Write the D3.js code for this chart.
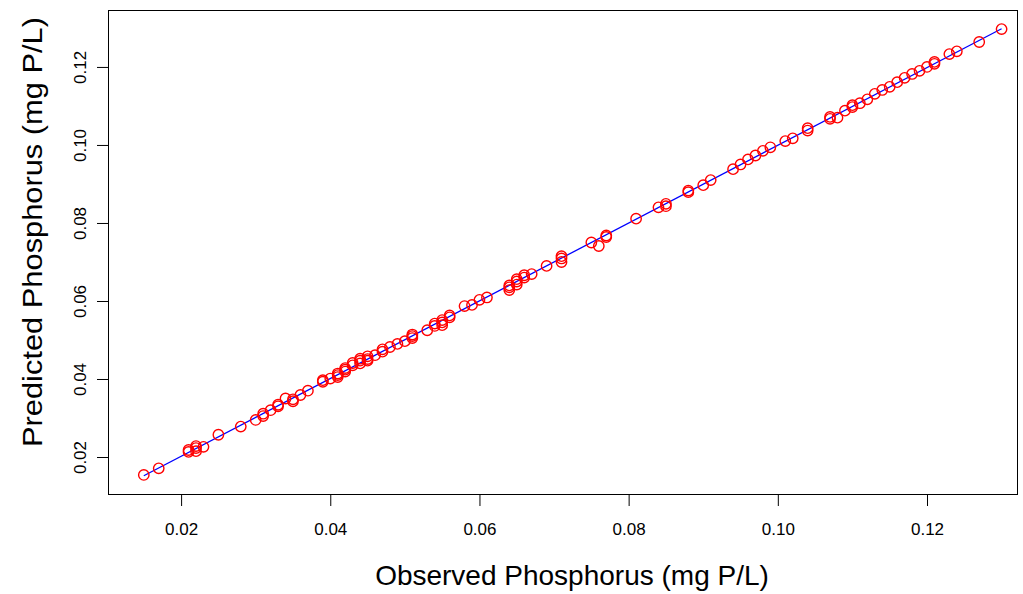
<!DOCTYPE html>
<html>
<head>
<meta charset="utf-8">
<script src="https://cdn.jsdelivr.net/npm/d3@7"></script>
<style>
  body { margin: 0; background: #fff; }
  text { font-family: "Liberation Sans", Arial, Helvetica, sans-serif; fill: #000; }
</style>
</head>
<body>
<div id="container"></div>
<script>
/* CONSTANTS AND GLOBALS */
const width = 1023,
  height = 594,
  margin = { top: 10, bottom: 99, left: 108, right: 5 };

/* DATA */
const observed = [
  0.015, 0.017, 0.021, 0.021, 0.022, 0.022, 0.022, 0.023, 0.025, 0.028,
  0.030, 0.031, 0.031, 0.032, 0.033, 0.033, 0.034, 0.035, 0.035, 0.036,
  0.037, 0.039, 0.039, 0.040, 0.041, 0.041, 0.041, 0.042, 0.042, 0.042,
  0.043, 0.043, 0.044, 0.044, 0.044, 0.045, 0.045, 0.045, 0.046, 0.047,
  0.047, 0.048, 0.049, 0.050, 0.051, 0.051, 0.051, 0.053, 0.054, 0.054,
  0.055, 0.055, 0.055, 0.056, 0.056, 0.058, 0.059, 0.060, 0.061, 0.064,
  0.064, 0.064, 0.065, 0.065, 0.065, 0.066, 0.066, 0.067, 0.069, 0.071,
  0.071, 0.071, 0.075, 0.076, 0.077, 0.077, 0.081, 0.084, 0.085, 0.085,
  0.088, 0.088, 0.090, 0.091, 0.094, 0.095, 0.096, 0.097, 0.098, 0.099,
  0.101, 0.102, 0.104, 0.104, 0.107, 0.107, 0.108, 0.109, 0.110, 0.110,
  0.111, 0.112, 0.113, 0.114, 0.115, 0.116, 0.117, 0.118, 0.119, 0.120,
  0.121, 0.121, 0.123, 0.124, 0.127, 0.130
];

const predicted = [
  0.0154, 0.0171, 0.0213, 0.0218, 0.0215, 0.0223, 0.0228, 0.0226, 0.0257, 0.0278,
  0.0295, 0.0305, 0.0311, 0.0320, 0.0330, 0.0334, 0.0350, 0.0343, 0.0348, 0.0359,
  0.0370, 0.0393, 0.0397, 0.0401, 0.0405, 0.0410, 0.0414, 0.0419, 0.0424, 0.0428,
  0.0435, 0.0441, 0.0440, 0.0447, 0.0452, 0.0447, 0.0451, 0.0458, 0.0461, 0.0470,
  0.0476, 0.0482, 0.0490, 0.0497, 0.0505, 0.0510, 0.0514, 0.0525, 0.0536, 0.0542,
  0.0538, 0.0545, 0.0551, 0.0558, 0.0563, 0.0587, 0.0590, 0.0603, 0.0609, 0.0628,
  0.0635, 0.0640, 0.0642, 0.0650, 0.0656, 0.0660, 0.0666, 0.0669, 0.0690, 0.0700,
  0.0709, 0.0715, 0.0750, 0.0741, 0.0764, 0.0768, 0.0811, 0.0840, 0.0843, 0.0849,
  0.0879, 0.0883, 0.0897, 0.0910, 0.0938, 0.0950, 0.0963, 0.0973, 0.0985, 0.0994,
  0.1010, 0.1017, 0.1037, 0.1043, 0.1067, 0.1072, 0.1070, 0.1088, 0.1097, 0.1102,
  0.1107, 0.1117, 0.1131, 0.1141, 0.1149, 0.1161, 0.1172, 0.1182, 0.1190, 0.1200,
  0.1208, 0.1213, 0.1233, 0.1240, 0.1264, 0.1297
];

// fitted line end points
const fitX = [0.015, 0.130];
const fitY = [0.0152, 0.1298];

const xTicks = [0.02, 0.04, 0.06, 0.08, 0.10, 0.12];
const yTicks = [0.02, 0.04, 0.06, 0.08, 0.10, 0.12];

const xTitle = "Observed Phosphorus (mg P/L)";
const yTitle = "Predicted Phosphorus (mg P/L)";

const points = observed.map((d, i) => ({ obs: d, pred: predicted[i] }));

// SCALES
const xScale = d3.scaleLinear()
  .domain([0.0102, 0.1322])
  .range([margin.left, width - margin.right]);

const yScale = d3.scaleLinear()
  .domain([0.01026, 0.1346])
  .range([height - margin.bottom, margin.top]);

// CREATE SVG ELEMENT
const svg = d3.select("#container")
  .append("svg")
  .attr("width", width)
  .attr("height", height);

// BOX
svg.append("rect")
  .attr("x", margin.left + 0.5)
  .attr("y", margin.top + 0.5)
  .attr("width", width - margin.left - margin.right - 1)
  .attr("height", height - margin.top - margin.bottom - 1)
  .attr("fill", "none")
  .attr("stroke", "#000")
  .attr("stroke-width", 1);

// AXES
const fmt = d3.format(".2f");

const xAxis = d3.axisBottom(xScale)
  .tickValues(xTicks)
  .tickFormat(fmt)
  .tickSize(11)
  .tickPadding(17);

const gx = svg.append("g")
  .attr("transform", `translate(0, ${height - margin.bottom})`)
  .call(xAxis);
gx.select(".domain").remove();
gx.selectAll("text").style("font-size", "17px");

const yAxis = d3.axisLeft(yScale)
  .tickValues(yTicks)
  .tickFormat(fmt)
  .tickSize(11);

const gy = svg.append("g")
  .attr("transform", `translate(${margin.left}, 0)`)
  .call(yAxis);
gy.select(".domain").remove();
gy.selectAll("text")
  .style("font-size", "17px")
  .attr("x", 0)
  .attr("dy", 0)
  .attr("text-anchor", "middle")
  .attr("transform", "translate(-22, 0) rotate(-90)");

// AXIS TITLES
svg.append("text")
  .attr("x", 572)
  .attr("y", 585)
  .attr("text-anchor", "middle")
  .style("font-size", "28px")
  .text(xTitle);

svg.append("text")
  .attr("transform", `translate(42, 232) rotate(-90)`)
  .attr("text-anchor", "middle")
  .attr("textLength", 430)
  .attr("lengthAdjust", "spacingAndGlyphs")
  .style("font-size", "28px")
  .text(yTitle);

// FIT LINE
const drawLine = d3.line()
  .x(d => xScale(d[0]))
  .y(d => yScale(d[1]));

svg.append("path")
  .datum(fitX.map((d, i) => [d, fitY[i]]))
  .attr("fill", "none")
  .attr("stroke", "#0000ff")
  .attr("stroke-width", 1.3)
  .attr("d", drawLine);

// POINTS
svg.selectAll(".pt")
  .data(points)
  .join("circle")
  .attr("class", "pt")
  .attr("cx", d => xScale(d.obs))
  .attr("cy", d => yScale(d.pred))
  .attr("r", 5.2)
  .attr("fill", "none")
  .attr("stroke", "#ff0000")
  .attr("stroke-width", 1.4);
</script>
</body>
</html>
